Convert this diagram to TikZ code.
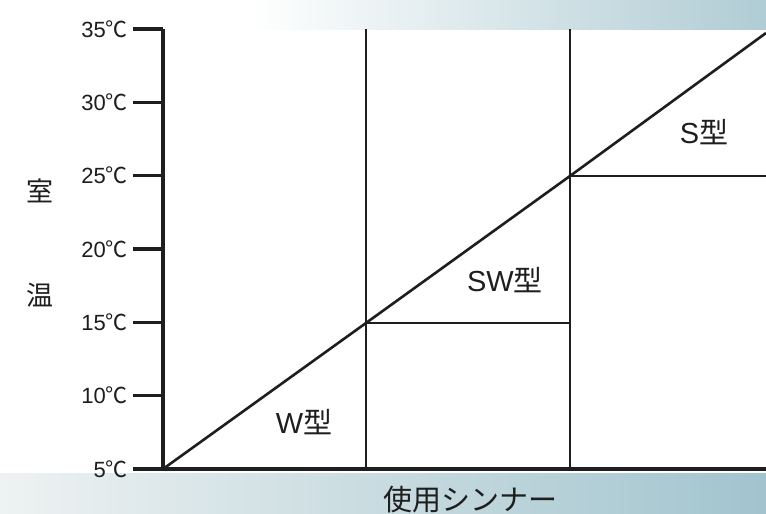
\documentclass[tikz,border=0pt]{standalone}
\usepackage{fontspec}
\setmainfont{Liberation Sans}
\newfontfamily\cjk{Noto Sans CJK JP}
\definecolor{bandblue}{RGB}{176,204,212}
\definecolor{bandblueb}{RGB}{162,196,206}
\definecolor{bandlight}{RGB}{238,242,242}
\definecolor{ink}{RGB}{30,30,30}
\begin{document}
\begin{tikzpicture}[x=1pt,y=-1pt,
  axisline/.style={draw=ink,line width=3.2pt},
  gridline/.style={draw=ink,line width=2.6pt},
  ticklabel/.style={anchor=east,inner sep=0pt,font=\fontsize{22}{22}\selectfont,text=ink},
  regionlabel/.style={inner sep=0pt,font=\fontsize{29}{29}\selectfont,text=ink},
  sidelabel/.style={inner sep=0pt,font=\cjk\fontsize{27}{27}\selectfont,text=ink},
  titlelabel/.style={inner sep=0pt,font=\cjk\fontsize{29}{29}\selectfont,text=ink}]
\useasboundingbox (0,0) rectangle (766,514);
\fill[white] (0,0) rectangle (766,514);
% top band
\shade[left color=white,right color=bandblue] (250,0) rectangle (766,29);
% bottom band
\shade[left color=bandlight,right color=bandblueb] (0,473) rectangle (766,514);
% coordinates
\coordinate (o) at (163,469);
\coordinate (t35) at (163,29);
\coordinate (v1b) at (366,469);
\coordinate (v1t) at (366,29);
\coordinate (v2b) at (570,469);
\coordinate (v2t) at (570,29);
\coordinate (p15) at (366,323);
\coordinate (p25) at (570,176);
\coordinate (q15) at (570,323);
\coordinate (q25) at (766,176);
\coordinate (dend) at (766,33);
\coordinate (xend) at (766,469);
% ticks and labels
\foreach \t/\yy in {35/29,30/102.3,25/175.7,20/249,15/322.3,10/395.7,5/469}{
  \draw[axisline] (133,\yy) -- (163,\yy);
  \node[ticklabel] (lab\t) at (128,\yy) {\t{\cjk ℃}};
}
% axes
\draw[axisline] (t35) -- (o) -- (xend);
% grid
\draw[gridline] (v1t) -- (v1b);
\draw[gridline] (v2t) -- (v2b);
\draw[gridline] (p15) -- (q15);
\draw[gridline] (p25) -- (q25);
\draw[gridline] (o) -- (p15) -- (p25) -- (dend);
% region labels
\node[regionlabel] (w) at (304,422) {W{\cjk 型}};
\node[regionlabel] (sw) at (505,280) {SW{\cjk 型}};
\node[regionlabel] (s) at (704,132) {S{\cjk 型}};
% axis titles
\node[sidelabel] (shitsu) at (40,191) {室};
\node[sidelabel] (on) at (40,295) {温};
\node[titlelabel] (thinner) at (470,500) {使用シンナー};
\end{tikzpicture}
\end{document}
